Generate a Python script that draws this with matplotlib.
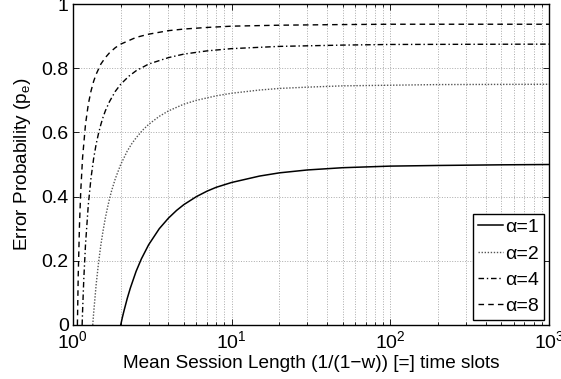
import matplotlib
matplotlib.use("Agg")
import matplotlib.pyplot as plt
from matplotlib.ticker import LogLocator, FixedLocator

plt.rcParams['font.family'] = ['Liberation Sans', 'DejaVu Sans']
plt.rcParams['mathtext.default'] = 'regular'

# valori: x = lunghezza media sessione, y = probabilita' di errore
x_a1 = [2, 2.05, 2.1, 2.2, 2.3, 2.5, 2.7, 3, 3.5, 4, 4.5, 5, 6, 7, 8, 10, 15, 20,
        30, 50, 100, 200, 500, 1000]
y_a1 = [0, 0.024, 0.045, 0.083, 0.115, 0.167, 0.206, 0.25, 0.3, 0.333, 0.357,
        0.375, 0.4, 0.417, 0.429, 0.444, 0.464, 0.474, 0.483, 0.490, 0.495,
        0.497, 0.499, 0.500]

x_a2 = [1.333, 1.35, 1.4, 1.45, 1.5, 1.55, 1.6, 1.65, 1.7, 1.75, 1.85, 2, 2.2,
        2.35, 2.5, 2.75, 3, 3.5, 4, 5, 6, 8, 10, 15, 20, 30, 50, 100, 200, 1000]
y_a2 = [0, 0.036, 0.125, 0.194, 0.25, 0.295, 0.333, 0.365, 0.393, 0.417, 0.456,
        0.5, 0.542, 0.565, 0.583, 0.607, 0.625, 0.65, 0.667, 0.688, 0.7, 0.714,
        0.722, 0.732, 0.737, 0.741, 0.745, 0.747, 0.749, 0.750]

x_a4 = [1.143, 1.15, 1.17, 1.2, 1.25, 1.3, 1.35, 1.4, 1.45, 1.5, 1.55, 1.6, 1.7,
        1.85, 2, 2.25, 2.5, 3, 4, 5, 7, 10, 20, 50, 100, 1000]
y_a4 = [0, 0.042, 0.140, 0.25, 0.375, 0.458, 0.518, 0.563, 0.597, 0.625, 0.648,
        0.667, 0.696, 0.728, 0.75, 0.775, 0.792, 0.813, 0.833, 0.844, 0.854,
        0.861, 0.868, 0.872, 0.874, 0.875]

x_a8 = [1.067, 1.08, 1.1, 1.12, 1.15, 1.2, 1.25, 1.3, 1.35, 1.4, 1.5, 1.6, 1.7,
        1.85, 2, 2.5, 3, 4, 5, 7, 10, 20, 50, 100, 1000]
y_a8 = [0, 0.156, 0.313, 0.417, 0.521, 0.625, 0.688, 0.729, 0.759, 0.781, 0.813,
        0.833, 0.848, 0.864, 0.875, 0.896, 0.906, 0.917, 0.922, 0.927, 0.931,
        0.934, 0.936, 0.937, 0.937]

labels = ['α=1', 'α=2', 'α=4', 'α=8']
x_ticks = [1, 10, 100, 1000]
x_tick_labels = [r'$10^{0}$', r'$10^{1}$', r'$10^{2}$', r'$10^{3}$']
y_ticks = [0, 0.2, 0.4, 0.6, 0.8, 1]
y_tick_labels = ['0', '0.2', '0.4', '0.6', '0.8', '1']

fig = plt.figure(figsize=(5.61, 3.79), dpi=100)
ax = fig.add_axes([0.130, 0.1425, 0.8486, 0.8469])

ax.plot(x_a1, y_a1, color='black', lw=1.1, label=labels[0])
ax.plot(x_a2, y_a2, color='#555555', lw=1.0, linestyle=(0, (1, 1.2)), label=labels[1])
ax.plot(x_a4, y_a4, color='black', lw=1.0, linestyle=(0, (4, 2, 1, 2)), label=labels[2])
ax.plot(x_a8, y_a8, color='black', lw=1.0, linestyle=(0, (4, 3)), label=labels[3])

ax.set_xscale('log')
ax.set_xlim(1, 1000)
ax.set_ylim(0, 1)
ax.xaxis.set_major_locator(FixedLocator(x_ticks))
ax.set_xticklabels(x_tick_labels)
ax.xaxis.set_minor_locator(LogLocator(base=10, subs=range(2, 10)))
ax.xaxis.set_minor_formatter(plt.NullFormatter())
ax.set_yticks(y_ticks)
ax.set_yticklabels(y_tick_labels)

ax.tick_params(which='both', direction='in', top=True, right=True, labelsize=14, width=0.6)
ax.tick_params(which='major', length=4)
ax.tick_params(which='minor', length=2)
ax.tick_params(axis='x', which='major', pad=4)
ax.tick_params(axis='y', which='major', pad=3)

ax.grid(True, which='major', color='#aaaaaa', linestyle=':', linewidth=0.7)
ax.grid(True, which='minor', axis='x', color='#aaaaaa', linestyle=':', linewidth=0.7)
for s in ax.spines.values():
    s.set_linewidth(1.0)

ax.set_xlabel('Mean Session Length (1/(1\u2212w)) [=] time slots', fontsize=13.7, labelpad=2)
ax.set_ylabel(r'Error Probability (p$_{e}$)', fontsize=13.7, labelpad=6)

leg = ax.legend(loc='lower right', fontsize=14, handlelength=1.3, handletextpad=0.1,
                labelspacing=0.45, borderpad=0.25, borderaxespad=0.25, fancybox=False,
                framealpha=1, edgecolor='black')
leg.get_frame().set_linewidth(1.0)

fig.savefig('out.png', dpi=100)
